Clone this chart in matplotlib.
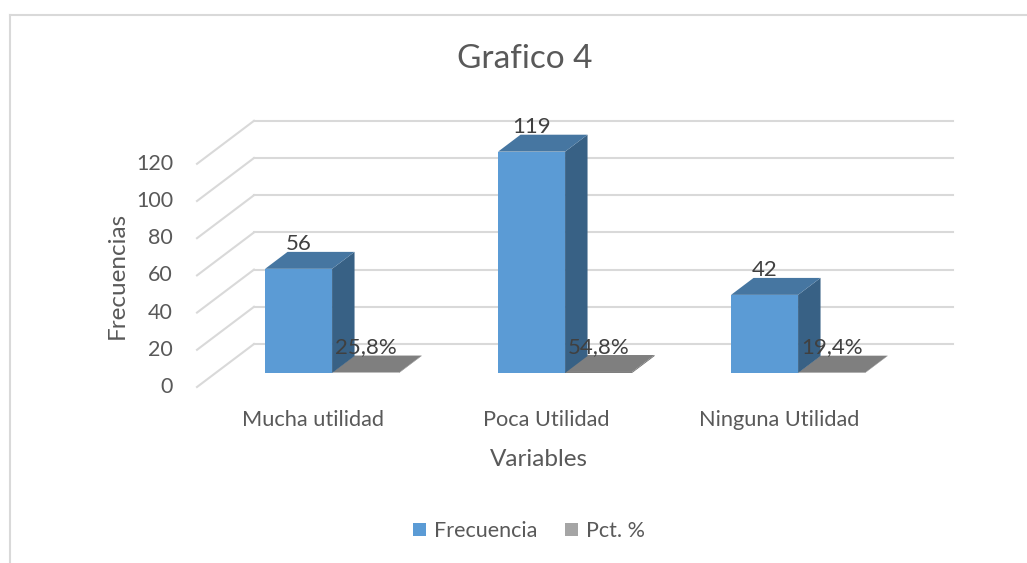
import numpy as np
import matplotlib
matplotlib.use('Agg')
from matplotlib import pyplot as plt
from matplotlib.patches import Polygon

plt.rcParams['font.family'] = ['Lato', 'DejaVu Sans']

# datos del grafico
categorias = ['Mucha utilidad', 'Poca Utilidad', 'Ninguna Utilidad']
frecuencia = [56, 119, 42]
porcentaje = [25.8, 54.8, 19.4]
etiquetas_pct = ['25,8%', '54,8%', '19,4%']
ticks_y = [0, 20, 40, 60, 80, 100, 120]
series = ['Frecuencia', 'Pct. %']

# colores
azul = '#5B9BD5'
azul_top = '#4676A1'
azul_lado = '#386185'
gris_top = '#7F7F7F'
gris_lado = '#6A6A6A'
gris_leyenda = '#A5A5A5'
rejilla = '#D9D9D9'
texto = '#595959'

fig = plt.figure(figsize=(10.27, 5.63), dpi=100)
ax = fig.add_axes([0, 0, 1, 1])
# escala: 1 categoria = 233 px, 1 unidad = 1.86 px, origen frontal en (197, 387)
px_cat = 233.0
px_val = 1.86
ax.set_xlim(-197 / px_cat, (1027 - 197) / px_cat)
ax.set_ylim(-(563 - 387) / px_val, 387 / px_val)
ax.axis('off')

# profundidad (oblicua)
dx = 57 / px_cat
dy = 43 / px_val
n = len(categorias)


def proy(x, y, d):
    return (x + d * dx, y + d * dy)


# paredes: rejilla lateral y trasera
for v in ticks_y:
    ax.plot([0, dx], [v, v + dy], color=rejilla, lw=1.5, zorder=1)
    ax.plot([dx, n + dx], [v + dy, v + dy], color=rejilla, lw=1.5, zorder=1)
    ax.text(-24 / px_cat, v, str(v), ha='right', va='center', fontsize=15.5, color=texto)

# barras
ancho = 67 / px_cat
d0, d1 = 0.326, 0.72


def caja(x0, x1, h, c_front, c_top, c_side, z):
    frente = [proy(x0, 0, d0), proy(x1, 0, d0), proy(x1, h, d0), proy(x0, h, d0)]
    arriba = [proy(x0, h, d0), proy(x1, h, d0), proy(x1, h, d1), proy(x0, h, d1)]
    lado = [proy(x1, 0, d0), proy(x1, 0, d1), proy(x1, h, d1), proy(x1, h, d0)]
    ax.add_patch(Polygon(lado, closed=True, fc=c_side, ec='none', zorder=z))
    ax.add_patch(Polygon(frente, closed=True, fc=c_front, ec='none', zorder=z))
    ax.add_patch(Polygon(arriba, closed=True, fc=c_top, ec='none', zorder=z))


for i in range(n):
    centro = i + 0.5
    # porcentaje (plano, escala 0-1)
    hp = porcentaje[i] / 100
    caja(centro, centro + ancho, hp, gris_top, gris_top, gris_lado, 2)
    xt, yt = proy(centro + ancho / 2, hp, d1)
    ax.text(centro + ancho / 2 + d0 * dx, yt - 1, etiquetas_pct[i], ha='center', va='bottom',
            fontsize=16, color='#404040', zorder=5)
    # frecuencia
    caja(centro - ancho, centro, frecuencia[i], azul, azul_top, azul_lado, 3)
    xt, yt = proy(centro - ancho / 2, frecuencia[i], d1)
    ax.text(centro - ancho / 2 + d0 * dx, yt - 1, str(frecuencia[i]), ha='center', va='bottom',
            fontsize=16, color='#404040', zorder=5)
    ax.text(centro, -17.5, categorias[i], ha='center', va='center', fontsize=15.7, color=texto)

# titulos
fig.text(525 / 1027, 1 - 59 / 563, 'Grafico 4', ha='center', va='center', fontsize=24, color=texto)
fig.text(539 / 1027, 1 - 459 / 563, 'Variables', ha='center', va='center', fontsize=17.5, color=texto)
fig.text(117 / 1027, 1 - 275 / 563, 'Frecuencias', ha='center', va='center', rotation=90,
         fontsize=17.5, color=texto)

# leyenda
handles = [plt.Rectangle((0, 0), 1, 1, fc=azul), plt.Rectangle((0, 0), 1, 1, fc=gris_leyenda)]
fig.legend(handles, series, loc='center', bbox_to_anchor=(529 / 1027, 1 - 531 / 563), ncol=2,
           frameon=False, fontsize=15.5, handlelength=0.6, handleheight=0.6, handletextpad=0.35,
           columnspacing=1.3, labelcolor=texto)

# marco
ax.plot([10 / px_cat - 197 / px_cat] * 2, [-(563 - 387) / px_val, (387 - 14.5) / px_val],
        color=rejilla, lw=1.5, clip_on=False)
ax.plot([10 / px_cat - 197 / px_cat, 1027 / px_cat], [(387 - 14.5) / px_val] * 2,
        color=rejilla, lw=1.5, clip_on=False)

fig.savefig('out.png', dpi=100)
